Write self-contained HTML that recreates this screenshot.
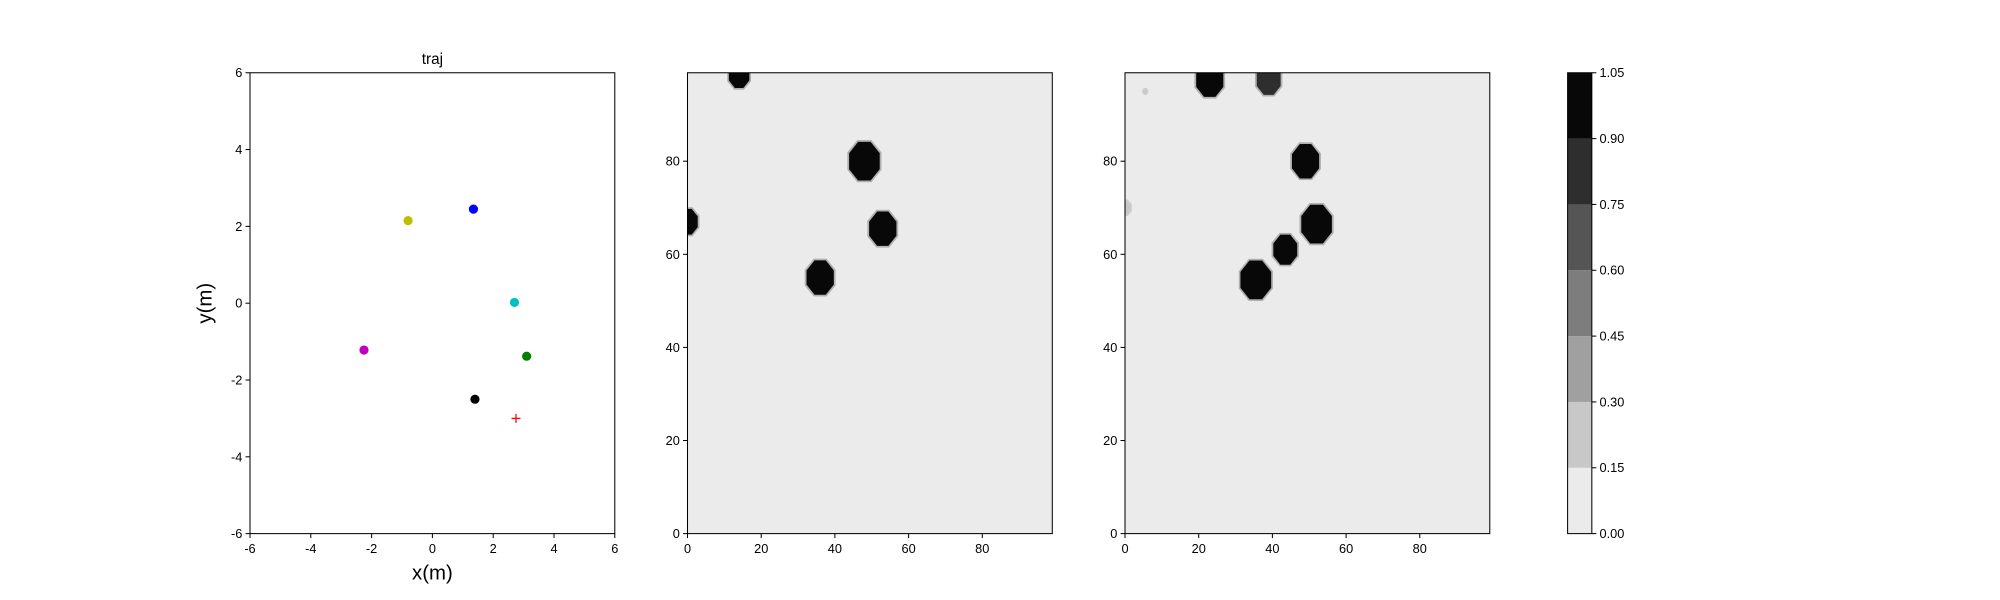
<!DOCTYPE html>
<html><head><meta charset="utf-8"><style>
html,body{margin:0;padding:0;background:#fff;}
svg{display:block;font-family:"Liberation Sans","DejaVu Sans",sans-serif;}
</style></head><body>
<svg id="fig" width="2000" height="600" viewBox="0 0 1568 470" preserveAspectRatio="none" xmlns="http://www.w3.org/2000/svg"></svg>
<script>
// traj panel data
const trajX = [-0.8, 1.35, 2.7, -2.25, 3.1, 1.4];
const trajY = [2.15, 2.45, 0.02, -1.22, -1.38, -2.5];
const trajColors = ['#bfbf00', '#0000ff', '#00bfbf', '#bf00bf', '#008000', '#000000'];
const goalX = [2.75];
const goalY = [-3.0];
const trajTicks = [-6, -4, -2, 0, 2, 4, 6];
// map panels data (blob centers, grid units)
const map1X = [14, 48, 0, 53, 36];
const map1Y = [98.5, 80, 67, 65.5, 55];
const map1V = [1, 1, 1, 1, 1];
const map1R = [3, 4.5, 3, 4, 4];
const map2X = [23, 39, 49, 52, 43.5, 35.5, 5.5, 0];
const map2Y = [97.5, 97.5, 80, 66.5, 61, 54.5, 95, 70];
const map2V = [1, 0.75, 1, 1, 1, 1, 0.2, 0.2];
const map2R = [4, 3.5, 4, 4.5, 3.5, 4.5, 0.4, 1.5];
const mapTicks = [0, 20, 40, 60, 80];
const cbLevels = [0, 0.15, 0.30, 0.45, 0.60, 0.75, 0.90, 1.05];
const cbColors = ['#ebebeb', '#c8c8c8', '#a0a0a0', '#7d7d7d', '#555555', '#2e2e2e', '#080808'];

const NS = 'http://www.w3.org/2000/svg';
const svg = document.getElementById('fig');
function mk(tag, attrs, parent) {
  const e = document.createElementNS(NS, tag);
  for (const k in attrs) e.setAttribute(k, attrs[k]);
  (parent || svg).appendChild(e);
  return e;
}
const TOPY = 57, BOTY = 418;
function lin(d0, d1, r0, r1) { return v => r0 + (v - d0) * (r1 - r0) / (d1 - d0); }

function axesFrame(x0, x1, xs, ys, xt, yt, name) {
  const g = mk('g', {});
  
  
  xt.forEach(t => {
    const x = xs(t);
    mk('line', {x1: x, x2: x, y1: BOTY, y2: BOTY + 3.5, stroke: '#000', 'stroke-width': 0.8}, g);
    const tx = mk('text', {x: x, y: BOTY + 15, 'font-size': 10, 'text-anchor': 'middle'}, g);
    tx.textContent = t;
    
    
  });
  yt.forEach(t => {
    const y = ys(t);
    mk('line', {x1: x0, x2: x0 - 3.5, y1: y, y2: y, stroke: '#000', 'stroke-width': 0.8}, g);
    const tx = mk('text', {x: x0 - 6, y: y + 3.5, 'font-size': 10, 'text-anchor': 'end'}, g);
    tx.textContent = t;
    
    
  });
  return g;
}
function border(x0, x1) {
  const r = mk('rect', {x: x0, y: TOPY, width: x1 - x0, height: BOTY - TOPY, fill: 'none', stroke: '#000', 'stroke-width': 0.8});
  
  
}

// Panel 1: traj
(function () {
  const x0 = 196, x1 = 482;
  const xs = lin(-6, 6, x0, x1), ys = lin(-6, 6, BOTY, TOPY);
  axesFrame(x0, x1, xs, ys, trajTicks, trajTicks, 'traj-axes');
  trajX.forEach((v, i) => {
    const c = mk('circle', {cx: xs(v), cy: ys(trajY[i]), r: 3.6, fill: trajColors[i]});
    
    
  });
  goalX.forEach((v, i) => {
    const cx = xs(v), cy = ys(goalY[i]);
    const g = mk('g', {stroke: '#ff0000', 'stroke-width': 1});
    
    
    mk('line', {x1: cx - 3.5, x2: cx + 3.5, y1: cy, y2: cy}, g);
    mk('line', {x1: cx, x2: cx, y1: cy - 3.5, y2: cy + 3.5}, g);
  });
  border(x0, x1);
  const t = mk('text', {x: (x0 + x1) / 2, y: 50, 'font-size': 12, 'text-anchor': 'middle'});
  t.textContent = 'traj';
  
  
  const xl = mk('text', {x: (x0 + x1) / 2, y: 454, 'font-size': 16, 'text-anchor': 'middle'});
  xl.textContent = 'x(m)';
  
  
  const yl = mk('text', {x: 0, y: 0, 'font-size': 16, 'text-anchor': 'middle', transform: 'translate(166,' + ((TOPY + BOTY) / 2) + ') rotate(-90)'});
  yl.textContent = 'y(m)';
  
  
})();

function octagon(cx, cy, rx, ry) {
  const pts = [];
  for (let k = 0; k < 8; k++) {
    const a = Math.PI / 8 + k * Math.PI / 4;
    pts.push((cx + rx * Math.cos(a)).toFixed(1) + ',' + (cy + ry * Math.sin(a)).toFixed(1));
  }
  return pts.join(' ');
}
function colorFor(v) {
  for (let i = cbColors.length - 1; i >= 0; i--) if (v >= cbLevels[i]) return cbColors[i];
  return cbColors[0];
}
function mapPanel(x0, X, Y, V, R, name) {
  const x1 = x0 + 286;
  const xs = lin(0, 99, x0, x1), ys = lin(0, 99, BOTY, TOPY);
  const clipId = 'clip' + x0;
  const cp = mk('clipPath', {id: clipId});
  mk('rect', {x: x0, y: TOPY, width: 286, height: BOTY - TOPY}, cp);
  const bg = mk('rect', {x: x0, y: TOPY, width: 286, height: BOTY - TOPY, fill: cbColors[0]});
  
  
  const g = mk('g', {'clip-path': 'url(#' + clipId + ')'});
  
  
  X.forEach((v, i) => {
    const cx = xs(v), cy = ys(Y[i]);
    const rx = xs(R[i]) - xs(0), ry = ys(0) - ys(R[i]);
    const halo = mk('polygon', {points: octagon(cx, cy, rx + 1.5, ry + 1.5), fill: '#888', opacity: V[i] > 0.5 ? 0.6 : 0.3}, g);
    
    
    const p = mk('polygon', {points: octagon(cx, cy, rx, ry), fill: colorFor(V[i])}, g);
    
    
  });
  axesFrame(x0, x1, xs, ys, mapTicks, mapTicks, name + '-axes');
  border(x0, x1);
}
mapPanel(539, map1X, map1Y, map1V, map1R, 'map-true');
mapPanel(882, map2X, map2Y, map2V, map2R, 'map-estimate');

// colorbar
(function () {
  const x0 = 1229, w = 19;
  const ys = lin(0, 1.05, BOTY, TOPY);
  const g = mk('g', {});
  
  
  cbColors.forEach((c, i) => {
    const yT = ys(cbLevels[i + 1]), yB = ys(cbLevels[i]);
    const r = mk('rect', {x: x0, y: yT, width: w, height: yB - yT, fill: c}, g);
    
    
  });
  mk('rect', {x: x0, y: TOPY, width: w, height: BOTY - TOPY, fill: 'none', stroke: '#000', 'stroke-width': 0.8}, g);
  cbLevels.forEach(l => {
    const y = ys(l);
    mk('line', {x1: x0 + w, x2: x0 + w + 3.5, y1: y, y2: y, stroke: '#000', 'stroke-width': 0.8}, g);
    const t = mk('text', {x: x0 + w + 6, y: y + 3.5, 'font-size': 10}, g);
    t.textContent = l.toFixed(2);
    
    
  });
})();
</script>
</body></html>
